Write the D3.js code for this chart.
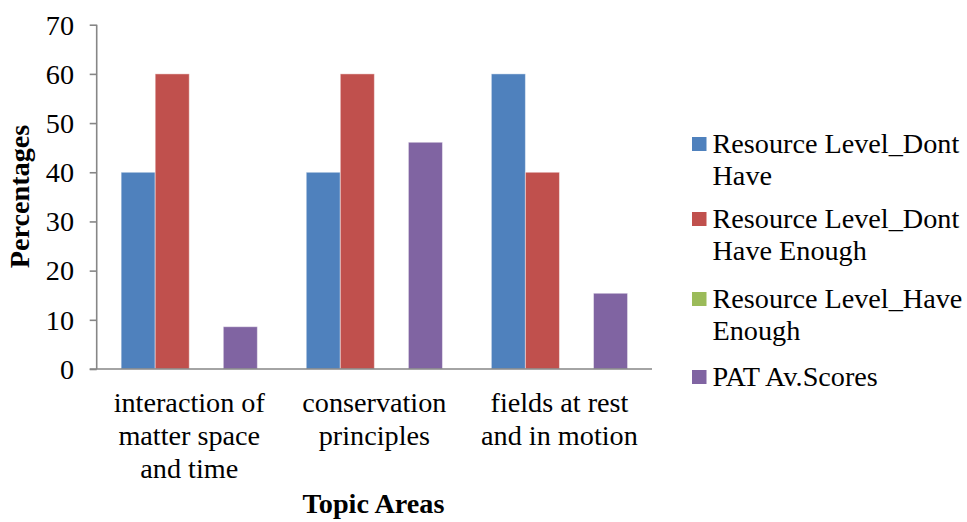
<!DOCTYPE html>
<html>
<head>
<meta charset="utf-8">
<script src="https://cdn.jsdelivr.net/npm/d3@7/dist/d3.min.js"></script>
<style>
  html, body { margin: 0; padding: 0; background: #fff; }
  svg { display: block; }
</style>
</head>
<body>
<svg id="chart" width="967" height="522"></svg>
<script>
const categories = [
  ["interaction of", "matter space", "and time"],
  ["conservation", "principles"],
  ["fields at rest", "and in motion"]
];
const seriesNames = [
  "Resource Level_Dont Have",
  "Resource Level_Dont Have Enough",
  "Resource Level_Have Enough",
  "PAT Av.Scores"
];
const legendLines = [
  ["Resource Level_Dont", "Have"],
  ["Resource Level_Dont", "Have Enough"],
  ["Resource Level_Have", "Enough"],
  ["PAT Av.Scores"]
];
const dontHave = [40, 40, 60];
const dontHaveEnough = [60, 60, 40];
const haveEnough = [0, 0, 0];
const patScores = [8.6, 46.1, 15.4];
const yTicks = [0, 10, 20, 30, 40, 50, 60, 70];
const colors = ["#4F81BD", "#C0504D", "#9BBB59", "#8064A2"];

const allSeries = [dontHave, dontHaveEnough, haveEnough, patScores];
const catKeys = categories.map((c, i) => "c" + i);

const svg = d3.select("#chart");
const axisColor = "#868686";
const SX = 1.065;
const FS = 26.5;
const FONT = "Liberation Serif, Times New Roman, Tinos, serif";

const x0 = 96.7, x1 = 652, yTop = 24.7, yBot = 369;

const x = d3.scaleBand().domain(catKeys).range([x0, x1]).paddingInner(0).paddingOuter(0);
const xs = d3.scaleBand().domain(seriesNames).range([0, x.bandwidth()]).paddingInner(0).paddingOuter(0.718);
const y = d3.scaleLinear().domain([0, 70]).range([yBot, yTop]);

function label(g, px, py, str, opts) {
  opts = opts || {};
  return g.append("text")
    .attr("transform", `translate(${px},${py})` + (opts.rotate ? ` rotate(${opts.rotate})` : "") + ` scale(${SX},1)`)
    .attr("x", 0).attr("y", 0)
    .attr("text-anchor", opts.anchor || "start")
    .attr("font-family", FONT)
    .attr("font-size", (opts.size || FS))
    .attr("font-weight", opts.bold ? "bold" : "normal")
    .attr("fill", "#000")
    .text(str);
}

// Bars
const gBars = svg.append("g");
allSeries.forEach((vals, si) => {
  gBars.selectAll(null)
    .data(vals.map((v, ci) => ({ v, ci })))
    .enter().append("rect")
    .attr("x", d => x(catKeys[d.ci]) + xs(seriesNames[si]))
    .attr("y", d => y(d.v))
    .attr("width", xs.bandwidth())
    .attr("height", d => y(0) - y(d.v))
    .attr("fill", colors[si])
    .attr("stroke", "rgba(255,255,255,0.45)")
    .attr("stroke-width", 1);
});

// Y axis
const yAxis = d3.axisLeft(y).tickValues(yTicks).tickSize(7).tickFormat("");
const gy = svg.append("g").attr("transform", `translate(${x0},0)`).call(yAxis);
gy.select(".domain").attr("stroke", axisColor).attr("stroke-width", 1.6).attr("d", `M0,${yTop}V${yBot}`);
gy.selectAll(".tick line").attr("stroke", axisColor).attr("stroke-width", 1.6);

const gyl = svg.append("g");
yTicks.forEach(t => label(gyl, 74, y(t) + 9.8, String(t), { anchor: "end" }));

// X axis
const xAxis = d3.axisBottom(x).tickSize(0).tickFormat("");
const gx = svg.append("g").attr("transform", `translate(0,${yBot})`).call(xAxis);
gx.select(".domain").attr("stroke", axisColor).attr("stroke-width", 1.6).attr("d", `M${x0 - 7},0H${x1}`);

const gxl = svg.append("g");
categories.forEach((lines, ci) => {
  const cx = x(catKeys[ci]) + x.bandwidth() / 2;
  lines.forEach((ln, li) => label(gxl, cx, 411.7 + li * 33, ln, { anchor: "middle" }));
});

// Axis titles
label(svg, 373.5, 513.3, "Topic Areas", { anchor: "middle", bold: true });
label(svg, 28.5, 196.5, "Percentages", { anchor: "middle", bold: true, rotate: -90 });

// Legend
const legendBase = [153, 228, 308, 386];
const gl = svg.append("g");
legendLines.forEach((lines, i) => {
  gl.append("rect")
    .attr("x", 692).attr("y", legendBase[i] - 16)
    .attr("width", 14.5).attr("height", 14)
    .attr("fill", colors[i]);
  lines.forEach((ln, li) => label(gl, 712.5, legendBase[i] + li * 31.5, ln));
});
</script>
</body>
</html>
